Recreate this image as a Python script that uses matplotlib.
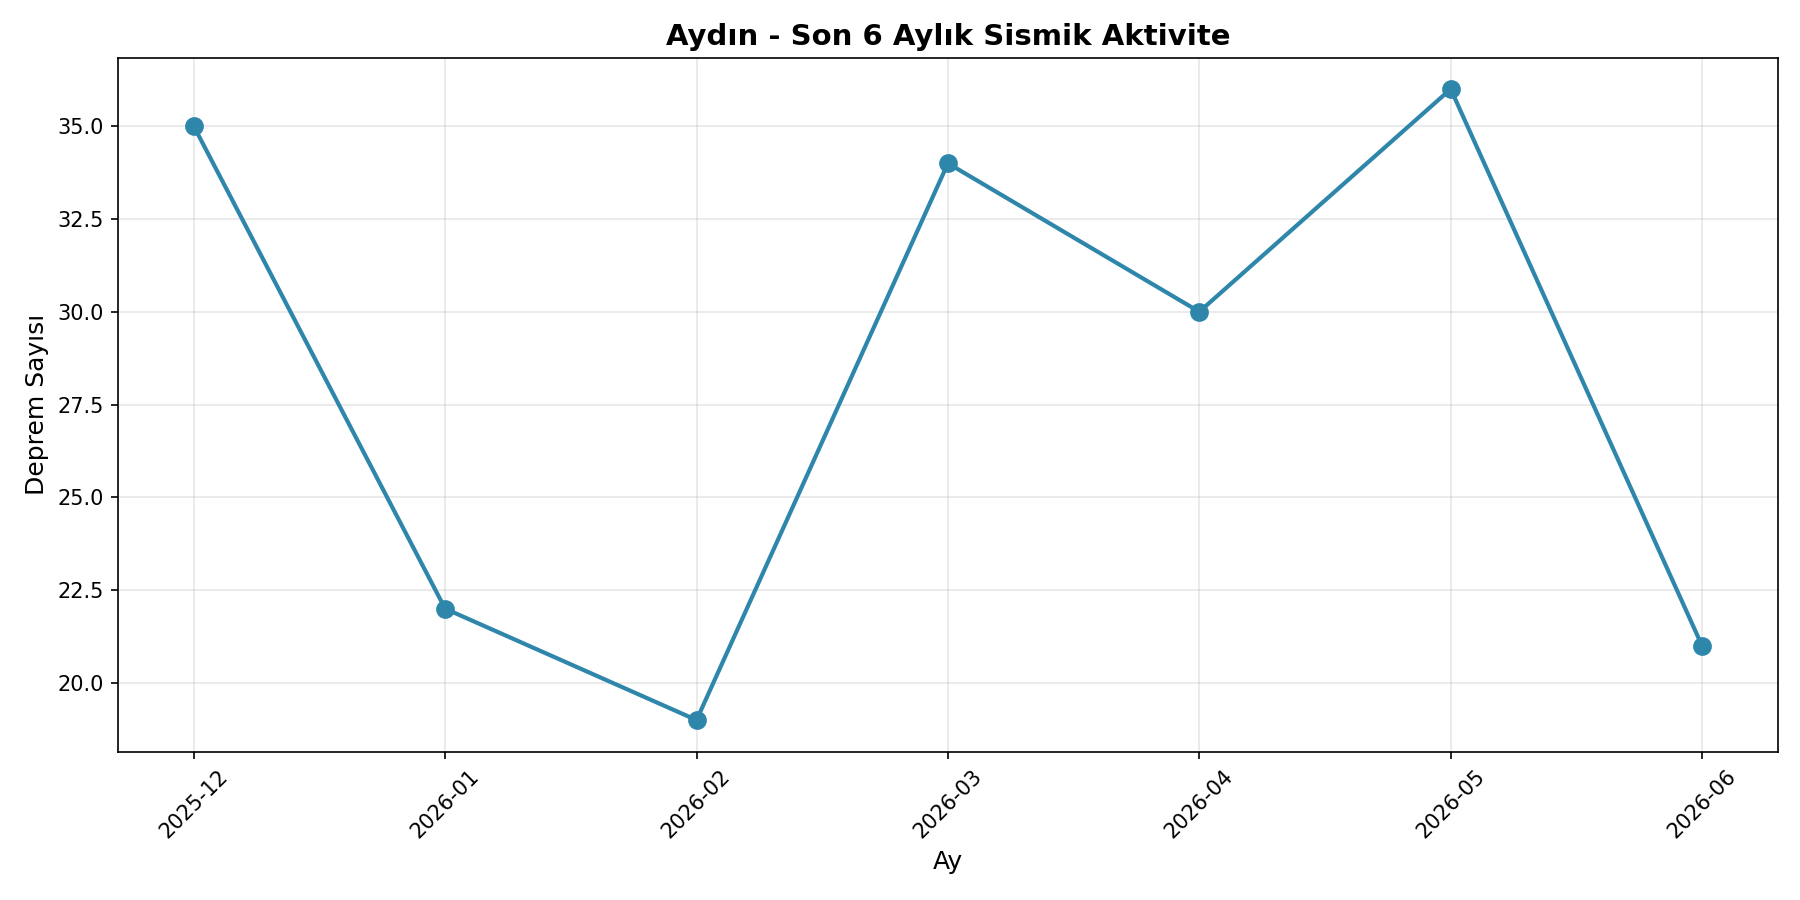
import matplotlib
matplotlib.use('Agg')
import matplotlib.pyplot as plt

months = ['2025-12', '2026-01', '2026-02', '2026-03', '2026-04', '2026-05', '2026-06']
counts = [35, 22, 19, 34, 30, 36, 21]

fig, ax = plt.subplots(figsize=(12, 6))
ax.plot(months, counts, marker='o', linewidth=2, markersize=8, color='#2E86AB')

ax.set_title('Aydın - Son 6 Aylık Sismik Aktivite', fontsize=14, fontweight='bold')
ax.set_xlabel('Ay', fontsize=12)
ax.set_ylabel('Deprem Sayısı', fontsize=12)
ax.grid(True, alpha=0.3)
plt.xticks(rotation=45)
plt.tight_layout()
plt.savefig('out.png', dpi=150)
